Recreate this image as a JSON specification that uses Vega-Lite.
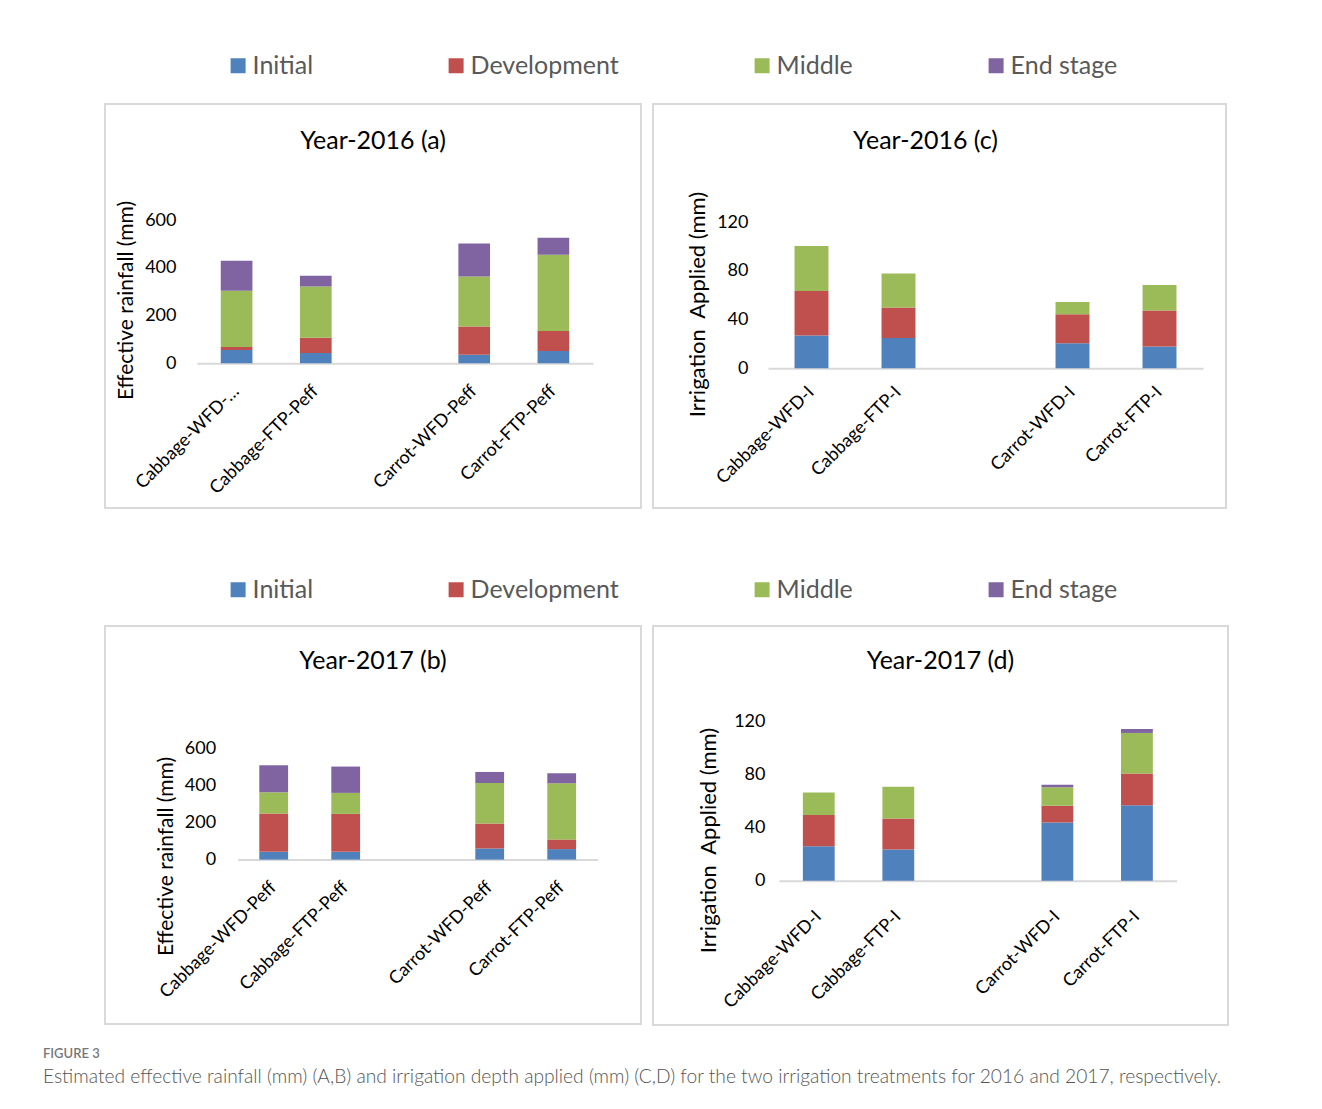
{
  "$schema": "https://vega.github.io/schema/vega-lite/v6.json",
  "background": "white",
  "padding": {"left": 43, "top": 53, "right": 10, "bottom": 20},
  "data": {
    "values": [
      {"panel": "a", "treatment": "Cabbage-WFD-Peff", "stage": "Initial", "mm": 56},
      {"panel": "a", "treatment": "Cabbage-WFD-Peff", "stage": "Development", "mm": 12.5},
      {"panel": "a", "treatment": "Cabbage-WFD-Peff", "stage": "Middle", "mm": 235.5},
      {"panel": "a", "treatment": "Cabbage-WFD-Peff", "stage": "End stage", "mm": 126},
      {"panel": "a", "treatment": "Cabbage-FTP-Peff", "stage": "Initial", "mm": 43},
      {"panel": "a", "treatment": "Cabbage-FTP-Peff", "stage": "Development", "mm": 64.5},
      {"panel": "a", "treatment": "Cabbage-FTP-Peff", "stage": "Middle", "mm": 214.5},
      {"panel": "a", "treatment": "Cabbage-FTP-Peff", "stage": "End stage", "mm": 45},
      {"panel": "a", "treatment": "Carrot-WFD-Peff", "stage": "Initial", "mm": 36},
      {"panel": "a", "treatment": "Carrot-WFD-Peff", "stage": "Development", "mm": 118},
      {"panel": "a", "treatment": "Carrot-WFD-Peff", "stage": "Middle", "mm": 210},
      {"panel": "a", "treatment": "Carrot-WFD-Peff", "stage": "End stage", "mm": 139},
      {"panel": "a", "treatment": "Carrot-FTP-Peff", "stage": "Initial", "mm": 52},
      {"panel": "a", "treatment": "Carrot-FTP-Peff", "stage": "Development", "mm": 84},
      {"panel": "a", "treatment": "Carrot-FTP-Peff", "stage": "Middle", "mm": 319},
      {"panel": "a", "treatment": "Carrot-FTP-Peff", "stage": "End stage", "mm": 72},

      {"panel": "c", "treatment": "Cabbage-WFD-I", "stage": "Initial", "mm": 27},
      {"panel": "c", "treatment": "Cabbage-WFD-I", "stage": "Development", "mm": 36.5},
      {"panel": "c", "treatment": "Cabbage-WFD-I", "stage": "Middle", "mm": 37},
      {"panel": "c", "treatment": "Cabbage-FTP-I", "stage": "Initial", "mm": 25},
      {"panel": "c", "treatment": "Cabbage-FTP-I", "stage": "Development", "mm": 25},
      {"panel": "c", "treatment": "Cabbage-FTP-I", "stage": "Middle", "mm": 28},
      {"panel": "c", "treatment": "Carrot-WFD-I", "stage": "Initial", "mm": 20.5},
      {"panel": "c", "treatment": "Carrot-WFD-I", "stage": "Development", "mm": 24},
      {"panel": "c", "treatment": "Carrot-WFD-I", "stage": "Middle", "mm": 10},
      {"panel": "c", "treatment": "Carrot-FTP-I", "stage": "Initial", "mm": 18},
      {"panel": "c", "treatment": "Carrot-FTP-I", "stage": "Development", "mm": 29.5},
      {"panel": "c", "treatment": "Carrot-FTP-I", "stage": "Middle", "mm": 21},

      {"panel": "b", "treatment": "Cabbage-WFD-Peff", "stage": "Initial", "mm": 42},
      {"panel": "b", "treatment": "Cabbage-WFD-Peff", "stage": "Development", "mm": 206.5},
      {"panel": "b", "treatment": "Cabbage-WFD-Peff", "stage": "Middle", "mm": 114.5},
      {"panel": "b", "treatment": "Cabbage-WFD-Peff", "stage": "End stage", "mm": 145.5},
      {"panel": "b", "treatment": "Cabbage-FTP-Peff", "stage": "Initial", "mm": 42},
      {"panel": "b", "treatment": "Cabbage-FTP-Peff", "stage": "Development", "mm": 204.5},
      {"panel": "b", "treatment": "Cabbage-FTP-Peff", "stage": "Middle", "mm": 113},
      {"panel": "b", "treatment": "Cabbage-FTP-Peff", "stage": "End stage", "mm": 142},
      {"panel": "b", "treatment": "Carrot-WFD-Peff", "stage": "Initial", "mm": 60},
      {"panel": "b", "treatment": "Carrot-WFD-Peff", "stage": "Development", "mm": 134.5},
      {"panel": "b", "treatment": "Carrot-WFD-Peff", "stage": "Middle", "mm": 218.5},
      {"panel": "b", "treatment": "Carrot-WFD-Peff", "stage": "End stage", "mm": 59.5},
      {"panel": "b", "treatment": "Carrot-FTP-Peff", "stage": "Initial", "mm": 56.5},
      {"panel": "b", "treatment": "Carrot-FTP-Peff", "stage": "Development", "mm": 52},
      {"panel": "b", "treatment": "Carrot-FTP-Peff", "stage": "Middle", "mm": 303},
      {"panel": "b", "treatment": "Carrot-FTP-Peff", "stage": "End stage", "mm": 54},

      {"panel": "d", "treatment": "Cabbage-WFD-I", "stage": "Initial", "mm": 26},
      {"panel": "d", "treatment": "Cabbage-WFD-I", "stage": "Development", "mm": 23.5},
      {"panel": "d", "treatment": "Cabbage-WFD-I", "stage": "Middle", "mm": 17},
      {"panel": "d", "treatment": "Cabbage-FTP-I", "stage": "Initial", "mm": 23.5},
      {"panel": "d", "treatment": "Cabbage-FTP-I", "stage": "Development", "mm": 23.5},
      {"panel": "d", "treatment": "Cabbage-FTP-I", "stage": "Middle", "mm": 24},
      {"panel": "d", "treatment": "Carrot-WFD-I", "stage": "Initial", "mm": 44},
      {"panel": "d", "treatment": "Carrot-WFD-I", "stage": "Development", "mm": 12.5},
      {"panel": "d", "treatment": "Carrot-WFD-I", "stage": "Middle", "mm": 14},
      {"panel": "d", "treatment": "Carrot-WFD-I", "stage": "End stage", "mm": 2},
      {"panel": "d", "treatment": "Carrot-FTP-I", "stage": "Initial", "mm": 57},
      {"panel": "d", "treatment": "Carrot-FTP-I", "stage": "Development", "mm": 24},
      {"panel": "d", "treatment": "Carrot-FTP-I", "stage": "Middle", "mm": 30.5},
      {"panel": "d", "treatment": "Carrot-FTP-I", "stage": "End stage", "mm": 3}
    ]
  },
  "transform": [
    {"calculate": "indexof(['Initial', 'Development', 'Middle', 'End stage'], datum.stage)", "as": "stageOrder"}
  ],
  "title": {
    "text": "FIGURE 3",
    "subtitle": "Estimated effective rainfall (mm) (A,B) and irrigation depth applied (mm) (C,D) for the two irrigation treatments for 2016 and 2017, respectively.",
    "orient": "bottom",
    "anchor": "start",
    "frame": "bounds",
    "dx": -61,
    "offset": 22,
    "font": "Lato",
    "fontSize": 13,
    "fontWeight": 600,
    "color": "#777777",
    "subtitleFont": "Lato",
    "subtitleFontSize": 19.2,
    "subtitleFontWeight": 300,
    "subtitleColor": "#555555",
    "subtitlePadding": 7
  },
  "resolve": {"scale": {"color": "independent"}},
  "spacing": 68,
  "vconcat": [
    {
      "spacing": 10,
      "hconcat": [
        {
          "width": 536,
          "height": 404,
          "title": {"text": "Year-2016 (a)", "fontSize": 25, "fontWeight": "normal", "color": "#000000", "font": "Lato", "offset": -70, "baseline": "alphabetic", "anchor": "middle", "frame": "group"},
          "transform": [{"filter": "datum.panel == 'a'"}],
          "mark": {"type": "bar"},
          "encoding": {
            "x": {
              "field": "treatment", "type": "nominal",
              "scale": {"domain": ["Cabbage-WFD-Peff", "Cabbage-FTP-Peff", " ", "Carrot-WFD-Peff", "Carrot-FTP-Peff"], "range": [92, 488], "paddingInner": 0.6, "paddingOuter": 0.3},
              "axis": {"title": null, "offset": -144.7, "labelPadding": 25, "labelExpr": "datum.value == 'Cabbage-WFD-Peff' ? 'Cabbage-WFD-…' : datum.value"}
            },
            "y": {
              "field": "mm", "type": "quantitative", "stack": "zero",
              "scale": {"domain": [0, 600], "range": [259.3, 116.3], "nice": false},
              "axis": {"title": "Effective rainfall (mm)", "values": [0, 200, 400, 600], "offset": -92, "labelPadding": 21, "titleX": -71, "titleY": 196, "titleFontSize": 21}
            },
            "color": {
              "field": "stage", "type": "nominal",
              "scale": {"domain": ["Initial", "Development", "Middle", "End stage"], "range": ["#4F81BD", "#C0504D", "#9BBB59", "#8064A2"]},
              "legend": {"title": null, "orient": "none", "legendX": 120.6, "legendY": -51}
            },
            "order": {"field": "stageOrder", "type": "quantitative"}
          }
        },
        {
          "width": 573,
          "height": 404,
          "title": {"text": "Year-2016 (c)", "fontSize": 25, "fontWeight": "normal", "color": "#000000", "font": "Lato", "offset": -70, "dx": -14, "baseline": "alphabetic", "anchor": "middle", "frame": "group"},
          "transform": [{"filter": "datum.panel == 'c'"}],
          "mark": {"type": "bar"},
          "encoding": {
            "x": {
              "field": "treatment", "type": "nominal",
              "scale": {"domain": ["Cabbage-WFD-I", "Cabbage-FTP-I", " ", "Carrot-WFD-I", "Carrot-FTP-I"], "range": [115, 550], "paddingInner": 0.61, "paddingOuter": 0.305},
              "axis": {"title": null, "offset": -139.7, "labelPadding": 21}
            },
            "y": {
              "field": "mm", "type": "quantitative", "stack": "zero",
              "scale": {"domain": [0, 120], "range": [264.3, 118.3], "nice": false},
              "axis": {"title": "Irrigation\u00a0 Applied (mm)", "values": [0, 40, 80, 120], "offset": -115, "labelPadding": 20, "titleX": -71, "titleY": 200, "titleFontSize": 22}
            },
            "color": {
              "field": "stage", "type": "nominal",
              "scale": {"domain": ["Initial", "Development", "Middle", "End stage"], "range": ["#4F81BD", "#C0504D", "#9BBB59", "#8064A2"]},
              "legend": {"title": null, "orient": "none", "legendX": 120.6, "legendY": -51}
            },
            "order": {"field": "stageOrder", "type": "quantitative"}
          }
        }
      ]
    },
    {
      "spacing": 10,
      "hconcat": [
        {
          "width": 536,
          "height": 398,
          "title": {"text": "Year-2017 (b)", "fontSize": 25, "fontWeight": "normal", "color": "#000000", "font": "Lato", "offset": -68, "baseline": "alphabetic", "anchor": "middle", "frame": "group"},
          "transform": [{"filter": "datum.panel == 'b'"}],
          "mark": {"type": "bar"},
          "encoding": {
            "x": {
              "field": "treatment", "type": "nominal",
              "scale": {"domain": ["Cabbage-WFD-Peff", "Cabbage-FTP-Peff", " ", "Carrot-WFD-Peff", "Carrot-FTP-Peff"], "range": [132.7, 492.7], "paddingInner": 0.6, "paddingOuter": 0.3},
              "axis": {"title": null, "offset": -164.4, "labelPadding": 25}
            },
            "y": {
              "field": "mm", "type": "quantitative", "stack": "zero",
              "scale": {"domain": [0, 600], "range": [233.6, 122.3], "nice": false},
              "axis": {"title": "Effective rainfall (mm)", "values": [0, 200, 400, 600], "offset": -132.7, "labelPadding": 22, "titleX": -71, "titleY": 230, "titleFontSize": 21}
            },
            "color": {
              "field": "stage", "type": "nominal",
              "scale": {"domain": ["Initial", "Development", "Middle", "End stage"], "range": ["#4F81BD", "#C0504D", "#9BBB59", "#8064A2"]},
              "legend": {"title": null, "orient": "none", "legendX": 120.6, "legendY": -49}
            },
            "order": {"field": "stageOrder", "type": "quantitative"}
          }
        },
        {
          "width": 575,
          "height": 399,
          "title": {"text": "Year-2017 (d)", "fontSize": 25, "fontWeight": "normal", "color": "#000000", "font": "Lato", "offset": -68, "baseline": "alphabetic", "anchor": "middle", "frame": "group"},
          "transform": [{"filter": "datum.panel == 'd'"}],
          "mark": {"type": "bar"},
          "encoding": {
            "x": {
              "field": "treatment", "type": "nominal",
              "scale": {"domain": ["Cabbage-WFD-I", "Cabbage-FTP-I", " ", "Carrot-WFD-I", "Carrot-FTP-I"], "range": [126, 523.7], "paddingInner": 0.6, "paddingOuter": 0.3},
              "axis": {"title": null, "offset": -144.3, "labelPadding": 33}
            },
            "y": {
              "field": "mm", "type": "quantitative", "stack": "zero",
              "scale": {"domain": [0, 120], "range": [254.7, 95.7], "nice": false},
              "axis": {"title": "Irrigation\u00a0 Applied (mm)", "values": [0, 40, 80, 120], "offset": -126, "labelPadding": 14, "titleX": -71, "titleY": 214, "titleFontSize": 22}
            },
            "color": {
              "field": "stage", "type": "nominal",
              "scale": {"domain": ["Initial", "Development", "Middle", "End stage"], "range": ["#4F81BD", "#C0504D", "#9BBB59", "#8064A2"]},
              "legend": {"title": null, "orient": "none", "legendX": 120.6, "legendY": -49}
            },
            "order": {"field": "stageOrder", "type": "quantitative"}
          }
        }
      ]
    }
  ],
  "config": {
    "font": "Lato",
    "view": {"stroke": "#d9d9d9", "strokeWidth": 2},
    "axis": {
      "labelFont": "Lato",
      "labelColor": "#000000",
      "titleFont": "Lato",
      "titleColor": "#000000",
      "titleFontWeight": "normal",
      "ticks": false,
      "tickSize": 0,
      "grid": false
    },
    "axisX": {
      "labelAngle": -45,
      "labelAlign": "right",
      "labelBaseline": "middle",
      "labelFontSize": 18,
      "domainColor": "#d9d9d9",
      "domainWidth": 2,
      "labelOverlap": false,
      "labelBound": false,
      "labelLimit": 400
    },
    "axisY": {
      "domain": false,
      "labelFontSize": 18,
      "titleBaseline": "middle",
      "titleAngle": -90
    },
    "legend": {
      "direction": "horizontal",
      "columns": 4,
      "columnPadding": 130,
      "symbolType": "square",
      "symbolSize": 225,
      "symbolStrokeWidth": 0,
      "labelFont": "Lato",
      "labelFontSize": 25,
      "labelColor": "#595959",
      "labelOffset": 2,
      "labelLimit": 400
    }
  }
}
